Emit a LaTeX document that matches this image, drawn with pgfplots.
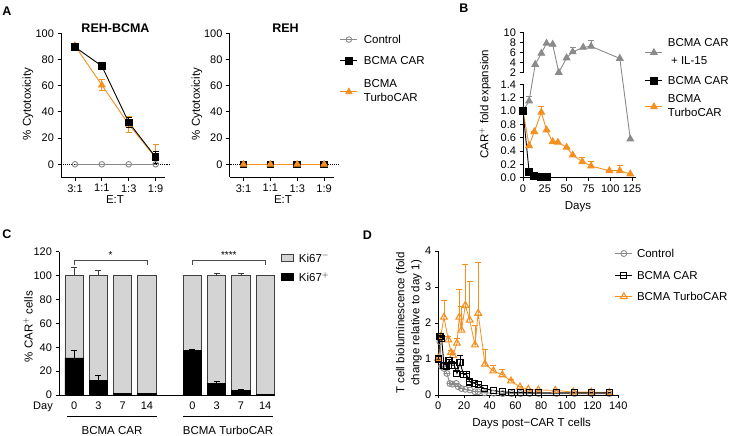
\documentclass[border=0pt]{standalone}
\usepackage{fontspec}
\setmainfont{Liberation Sans}
\usepackage{pgfplots}
\usepackage{pgfplotstable}
\pgfplotsset{compat=1.18}
\definecolor{gor}{RGB}{247,143,30}
\definecolor{ggr}{RGB}{138,138,138}
\definecolor{lgr}{RGB}{212,212,212}
\newcommand{\tfont}{\fontsize{11}{12}\selectfont}
\newcommand{\lfont}{\fontsize{11.5}{13.5}\selectfont}
\newcommand{\pfont}{\bfseries\fontsize{12.5}{14}\selectfont}
\pgfplotsset{
  gp/.style={
    scale only axis, clip=false, anchor=south west,
    axis lines=left,
    axis line style={-, line width=0.9pt},
    every tick/.style={black, line width=0.9pt},
    tick align=outside, major tick length=3.5pt,
    tick label style={font=\tfont},
    /pgf/number format/assume math mode=true,
    legend cell align=left,
    legend style={draw=none, fill=none, font=\lfont, anchor=north west,
      nodes={inner sep=2pt, text depth=}},
  },
  eb/.style={/pgfplots/error bars/y dir=both, /pgfplots/error bars/y explicit,
    /pgfplots/error bars/error bar style={line width=0.8pt},
    /pgfplots/error bars/error mark options={rotate=90, mark size=3pt, line width=0.8pt}},
  ebp/.style={/pgfplots/error bars/y dir=plus, /pgfplots/error bars/y explicit,
    /pgfplots/error bars/error bar style={line width=0.8pt},
    /pgfplots/error bars/error mark options={rotate=90, mark size=3pt, line width=0.8pt}},
}
% ---------- Panel A ----------
\pgfplotstableread{
x y ep em
0 0 0 0
1 0 0 0
2 0 0 0
3 0 0 0
}\Azero
\pgfplotstableread{
x y ep em
0 89.5 1.5 1.5
1 75 1.5 1.5
2 32 4 4
3 5.5 4.5 4.5
}\AbL
\pgfplotstableread{
x y ep em
0 90.5 2 2
1 60.5 4 4
2 30.5 6 6
3 5 10 0
}\AtL
% ---------- Panel B ----------
\pgfplotstableread{
x y
0 1.0
7 1.15
14 3.6
21 5.8
27 7.8
34 7.6
41 2.0
50 4.9
57 6.1
69 7.0
78 7.2
111 4.8
123 0.58
}\Bgray
\pgfplotstableread{
x y ep
0 1.0 0
7 0.48 0
13 0.69 0
21 0.98 0.085
27 0.715 0
34 0.54 0
40 0.53 0
50 0.455 0
57 0.34 0
68 0.24 0.065
78 0.175 0.065
99 0.105 0
111 0.105 0.075
123 0.055 0
}\Borange
\pgfplotstableread{
x y
0 1.0
7 0.09
13 0.03
21 0.015
27 0.01
}\Bblack
% ---------- Panel C ----------
\pgfplotstableread{
x p pe n ne
0 31 6.5 69 6.5
1 12 4.5 88 4.5
2 1 0.5 99 0.5
3 1 0.5 99 0.5
4.87 37.5 0.5 62.5 0.5
5.87 9.5 1.5 90.5 2.2
6.87 3.5 1.5 96.5 1.8
7.87 0.3 0 99.7 0.3
}\Cdata
% ---------- Panel D ----------
\pgfplotstableread{
x y ep
0 1.0 0
1.3 1.48 0.05
2.6 0.79 0
4.4 0.74 0
6.7 0.6 0
9 0.32 0
11 0.3 0
14 0.32 0
15.5 0.23 0
18 0.18 0
21 0.16 0
24.6 0.14 0
28.5 0.09 0
31 0.09 0
36 0.06 0
43 0.05 0
50 0.04 0
57 0.04 0
64 0.04 0
71 0.04 0
78 0.04 0
92 0.04 0
106 0.04 0
119 0.04 0
133 0.04 0
}\Dctrl
\pgfplotstableread{
x y ep
0 1.0 0
1.3 1.62 0.05
2.6 1.58 0.05
4.4 0.83 0.05
6.5 0.79 0.05
8.3 0.95 0.05
10.4 0.83 0.1
12.4 0.83 0.05
14.5 0.6 0.05
16.9 0.9 0.21
19.7 0.56 0.05
21.8 0.58 0.03
24.6 0.36 0.03
28.5 0.32 0.02
31 0.28 0.02
36 0.18 0
43 0.12 0
50 0.09 0
57 0.07 0
64 0.07 0
71 0.06 0
78 0.06 0
92 0.06 0
106 0.06 0
119 0.06 0
133 0.06 0
}\Dcar
\pgfplotstableread{
x y ep
0 1.02 0
1.8 1.62 0.1
4.4 2.16 0.46
7.8 1.53 0.1
9.9 1.18 0.05
11.5 1.1 0.05
14.5 1.44 0.13
16.3 2.16 0.76
18 1.8 0.65
21 2.49 1.14
24.4 2.08 1.07
28.5 1.39 0.53
31 2.27 1.41
36.3 0.86 0.41
42.8 0.67 0.16
49.8 0.56 0.14
56.5 0.39 0.03
63.5 0.22 0.02
70 0.16 0
77.8 0.14 0
91 0.13 0
105 0.08 0
119 0.08 0
133 0.07 0
}\Dturbo
\begin{document}
\begin{tikzpicture}[x=1pt,y=1pt]
\path[use as bounding box] (0,0) rectangle (733,436);

% ===== A left =====
\begin{axis}[gp, at={(61pt,258.6pt)}, width=104pt, height=144.1pt,
  xmin=-0.52, xmax=3.35, ymin=-10, ymax=100,
  xtick={0,1,2,3}, xticklabels={3:1,1:1,1:3,1:9},
  ytick={0,20,40,60,80,100}]
\addplot[black, densely dotted, line width=0.9pt, forget plot] coordinates {(-0.52,0) (3.55,0)};
\addplot[ggr, line width=0.9pt, mark=o, mark size=2.8pt] table[x=x,y=y] {\Azero};
\addplot[gor, line width=0.9pt, mark=triangle*, mark size=3.6pt, eb] table[x=x,y=y,y error plus=ep,y error minus=em] {\AtL};
\addplot[black, line width=0.9pt, mark=square*, mark size=3.3pt, eb] table[x=x,y=y,y error plus=ep,y error minus=em] {\AbL};
\end{axis}

% ===== A right =====
\begin{axis}[gp, at={(229.5pt,258.6pt)}, width=104pt, height=144.1pt,
  xmin=-0.52, xmax=3.35, ymin=-10, ymax=100,
  xtick={0,1,2,3}, xticklabels={3:1,1:1,1:3,1:9},
  ytick={0,20,40,60,80,100},
  legend style={at={(1.031,1.015)}, column sep=4pt, row sep=9pt}]
\addplot[black, densely dotted, line width=0.9pt, forget plot] coordinates {(-0.52,0) (3.55,0)};
\addplot[ggr, line width=0.9pt, mark=o, mark size=2.8pt] table[x=x,y=y] {\Azero};
\addlegendentry{Control}
\addplot[black, line width=0.9pt, mark=square*, mark size=3.3pt] table[x=x,y=y] {\Azero};
\addlegendentry{BCMA CAR}
\addplot[gor, line width=0.9pt, mark=triangle*, mark size=3.6pt] table[x=x,y=y] {\Azero};
\addlegendentry{\begin{tabular}{@{}l@{}}BCMA\\[1pt]TurboCAR\end{tabular}}
\end{axis}

% ===== B =====
\begin{axis}[gp, at={(523pt,258.3pt)}, width=113.4pt, height=145.4pt,
  y coord trafo/.code={\pgfmathparse{min(#1,1.4)+0.295*max(0,min(#1,2)-1.4)+0.07534*max(0,#1-2)}},
  xmin=0, xmax=130, ymin=0, ymax=10,
  xtick={0,25,50,75,100,125},
  ytick={0,0.2,0.4,0.6,0.8,1.0,1.2,1.4,2,4,6,8,10},
  yticklabels={0.0,0.2,0.4,0.6,0.8,1.0,1.2,1.4,2,4,6,8,10},
  legend style={at={(1.047,0.999)}, column sep=3pt, row sep=4pt}]
% error bars of the grey series (mean and mean + error)
\addplot[ggr, line width=0.8pt, mark=-, mark size=3pt, forget plot] coordinates {(7,1.15) (7,1.22)};
\addplot[ggr, line width=0.8pt, mark=-, mark size=3pt, forget plot] coordinates {(57,6.1) (57,6.9)};
\addplot[ggr, line width=0.8pt, mark=-, mark size=3pt, forget plot] coordinates {(78,7.2) (78,8.3)};
\addplot[ggr, line width=0.9pt, mark=triangle*, mark size=3.8pt] table[x=x,y=y] {\Bgray};
\addlegendentry{\begin{tabular}{@{}l@{}}BCMA CAR\\[5pt]\ + IL-15\end{tabular}}
\addplot[gor, line width=0.9pt, mark=triangle*, mark size=3.8pt, ebp, forget plot] table[x=x,y=y,y error plus=ep] {\Borange};
\addplot[black, line width=0.9pt, mark=square*, mark size=3.5pt] table[x=x,y=y] {\Bblack};
\addlegendentry{BCMA CAR}
\addlegendimage{gor, line width=0.9pt, mark=triangle*, mark size=3.8pt}
\addlegendentry{\begin{tabular}{@{}l@{}}BCMA\\[1pt]TurboCAR\end{tabular}}
\end{axis}
\fill[white] (520.8,352.3) rectangle (525.2,362.9);

% ===== C =====
\begin{axis}[gp, at={(59pt,41pt)}, width=214pt, height=143.3pt,
  ybar stacked, bar width=18.3pt,
  xmin=-0.62, xmax=8.19, ymin=0, ymax=120,
  xtick={0,1,2,3,4.87,5.87,6.87,7.87}, xticklabels={0,3,7,14,0,3,7,14},
  major x tick style={draw=none},
  ytick={0,20,40,60,80,100,120},
  reverse legend,
  legend style={at={(1.023,1.020)}, column sep=3pt, row sep=6pt}]
\addplot[fill=black, draw=black, line width=0.8pt, ebp,
  legend image code/.code={\draw[fill=black,draw=black,line width=0.8pt] (0pt,-3.5pt) rectangle (12pt,3.5pt);}]
  table[x=x,y=p,y error plus=pe] {\Cdata};
\addlegendentry{Ki67$^{+}$}
\addplot[fill=lgr, draw=black!75, line width=0.8pt, ebp,
  /pgfplots/error bars/error bar style={black!75, line width=0.8pt},
  legend image code/.code={\draw[fill=lgr,draw=black!75,line width=0.8pt] (0pt,-3.5pt) rectangle (12pt,3.5pt);}]
  table[x=x,y=n,y error plus=ne] {\Cdata};
\addlegendentry{Ki67$^{-}$}
\draw[line width=0.7pt, black!70] (axis cs:0,109) |- (axis cs:3,113) -- (axis cs:3,109);
\draw[line width=0.7pt, black!70] (axis cs:4.87,109) |- (axis cs:7.87,113) -- (axis cs:7.87,109);
\node[font=\fontsize{10}{10}\selectfont, anchor=south, inner sep=1pt] at (axis cs:1.5,113) {*};
\node[font=\fontsize{10}{10}\selectfont, anchor=south, inner sep=1pt] at (axis cs:6.37,113) {****};
\end{axis}

% ===== D =====
\begin{axis}[gp, at={(438.3pt,41pt)}, width=180pt, height=144pt,
  xmin=0, xmax=140, ymin=0, ymax=4,
  xtick={0,20,40,60,80,100,120,140}, ytick={0,1,2,3,4},
  legend style={at={(0.963,1.041)}, column sep=2.2pt, row sep=9.3pt}]
\addplot[ggr, line width=0.9pt, mark=o, mark size=3pt, ebp] table[x=x,y=y,y error plus=ep] {\Dctrl};
\addlegendentry{Control}
\addplot[gor, line width=0.8pt, mark=triangle, mark size=3.9pt, mark options={line width=1.1pt}, ebp, forget plot] table[x=x,y=y,y error plus=ep] {\Dturbo};
\addplot[black, line width=0.9pt, mark=square, mark size=3pt, mark options={line width=1.1pt}, ebp] table[x=x,y=y,y error plus=ep] {\Dcar};
\addlegendentry{BCMA CAR}
\addlegendimage{gor, line width=0.8pt, mark=triangle, mark size=3.9pt, mark options={line width=1.1pt}}
\addlegendentry{BCMA TurboCAR}
\end{axis}

% ===== Texts =====
\node[font=\pfont] at (7,425) {A};
\node[font=\pfont] at (464,427.5) {B};
\node[font=\pfont] at (7,202) {C};
\node[font=\pfont] at (367.5,201) {D};
\node[font=\pfont] at (115.5,407.7) {REH-BCMA};
\node[font=\pfont] at (285.5,408) {REH};
\node[font=\lfont, rotate=90] at (28,332) {\% Cytotoxicity};
\node[font=\lfont, rotate=90] at (197,332) {\% Cytotoxicity};
\node[font=\lfont] at (115,236) {E:T};
\node[font=\lfont] at (283,236) {E:T};
\node[font=\lfont, rotate=90] at (485,332) {CAR$^{+}$ fold expansion};
\node[font=\lfont] at (578,229) {Days};
\node[font=\lfont, rotate=90] at (28,109.3) {\% CAR$^{+}$ cells};
\node[font=\tfont] at (43,29.3) {Day};
\draw[line width=0.9pt] (67,19.3) -- (157,19.3);
\draw[line width=0.9pt] (183,19.3) -- (273,19.3);
\node[font=\lfont] at (112,5.8) {BCMA CAR};
\node[font=\lfont] at (228,5.8) {BCMA TurboCAR};
\node[font=\fontsize{11.5}{15}\selectfont, rotate=90, align=center] at (409,113) {T cell bioluminescence (fold\\change relative to day 1)};
\node[font=\lfont] at (531.7,12) {Days post−CAR T cells};
\end{tikzpicture}
\end{document}
